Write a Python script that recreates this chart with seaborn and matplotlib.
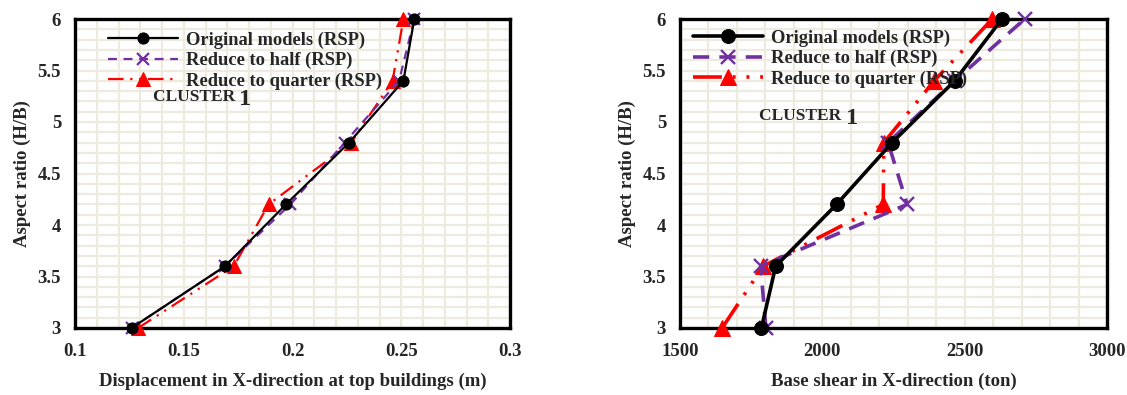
import matplotlib
matplotlib.use("Agg")
import matplotlib.pyplot as plt
import seaborn as sns
import numpy as np
import pandas as pd
from matplotlib.ticker import MultipleLocator

sns.set_theme(style="white")
plt.rcParams['font.family'] = ['Liberation Serif', 'DejaVu Serif']
plt.rcParams['font.weight'] = 'bold'

aspect = [3.0, 3.6, 4.2, 4.8, 5.4, 6.0]
series_names = ["Original models (RSP)", "Reduce to half (RSP)", "Reduce to quarter (RSP)"]

# Left: displacement (m)
disp_orig = [0.126, 0.169, 0.197, 0.226, 0.251, 0.256]
disp_half = [0.126, 0.169, 0.199, 0.224, 0.249, 0.256]
disp_quarter = [0.129, 0.173, 0.189, 0.227, 0.246, 0.251]

# Right: base shear (ton)
shear_orig = [1786, 1836, 2050, 2245, 2465, 2631]
shear_half = [1802, 1783, 2298, 2231, 2465, 2711]
shear_quarter = [1648, 1792, 2214, 2216, 2393, 2597]

FS = 13.5
fig = plt.figure(figsize=(11.27, 3.95), dpi=100)
axL = fig.add_axes([75/1127, 1-328/395, (510-75)/1127, (328-19)/395])
axR = fig.add_axes([680/1127, 1-328/395, (1107-680)/1127, (328-19)/395])

grid_c = '#EDEADF'

def style_axes(ax, xlim, xmajor, xminor):
    ax.set_xlim(*xlim)
    ax.set_ylim(3, 6)
    ax.xaxis.set_major_locator(MultipleLocator(xmajor))
    ax.xaxis.set_minor_locator(MultipleLocator(xminor))
    ax.yaxis.set_major_locator(MultipleLocator(0.5))
    ax.yaxis.set_minor_locator(MultipleLocator(0.1))
    ax.grid(True, which='both', color=grid_c, linewidth=1.6, zorder=0)
    ax.set_axisbelow(True)
    for s in ax.spines.values():
        s.set_color('black')
        s.set_linewidth(2.4)
        s.set_visible(True)
    ax.tick_params(which='both', direction='in', length=3.5, width=2.2, color='black',
                   labelsize=FS, pad=10)
    ax.tick_params(axis='x', pad=11)
    fmt = plt.FuncFormatter(lambda v, p: f"{v:g}")
    ax.xaxis.set_major_formatter(fmt)
    ax.yaxis.set_major_formatter(fmt)
    for lab in ax.get_xticklabels() + ax.get_yticklabels():
        lab.set_fontweight('bold')
    ax.set_ylabel("Aspect ratio (H/B)", fontsize=FS, fontweight='bold', labelpad=5)
    ax.set_facecolor('white')

def add_cluster(ax, x, y):
    t = ax.text(x, y, "CLUSTER ", transform=ax.transAxes, fontsize=12.5, fontweight='bold',
                va='baseline')
    ax.annotate("1", xy=(1, 0), xycoords=t, xytext=(0, 0), textcoords='offset points',
                fontsize=17.5, fontweight='bold', va='baseline', ha='left')

def draw(ax, xs, lw, ms, styles, xmew):
    cols = ['black', '#7030A0', 'red']
    marks = ['o', 'x', '^']
    for i, (xv, name) in enumerate(zip(xs, series_names)):
        kw = dict(linewidth=lw, marker=marks[i], markersize=ms[i], markeredgecolor=cols[i],
                  clip_on=False, zorder=3 + (2 - i))
        if styles[i] is not None:
            kw['linestyle'] = styles[i]
        if marks[i] == 'x':
            kw['markeredgewidth'] = xmew
        sns.lineplot(x=xv, y=aspect, sort=False, estimator=None, ax=ax, color=cols[i],
                     label=name, **kw)

# Left plot
draw(axL, [disp_orig, disp_half, disp_quarter], 1.6, [8, 8, 9.5],
     [None, (0, (4, 3)), (0, (7, 3, 1, 3, 1, 3))], 1.6)
style_axes(axL, (0.1, 0.3), 0.05, 0.01)
axL.set_xlabel("Displacement in X-direction at top buildings (m)", fontsize=FS,
               fontweight='bold', labelpad=9)
axL.legend(loc='upper left', bbox_to_anchor=(0.046, 1.002), frameon=False,
           handlelength=3.8, handletextpad=0.43, labelspacing=0.17, borderaxespad=0.3,
           prop={'weight': 'bold', 'size': 13.3})
add_cluster(axL, 0.179, 0.735)

# Right plot
draw(axR, [shear_orig, shear_half, shear_quarter], 2.6, [10, 10, 12],
     [None, (0, (4.5, 2.8)), (0, (8, 3, 0.8, 3, 0.8, 3))], 1.7)
style_axes(axR, (1500, 3000), 500, 100)
axR.set_xlabel("Base shear in X-direction (ton)", fontsize=FS, fontweight='bold', labelpad=9)
axR.legend(loc='upper left', bbox_to_anchor=(0.0, 1.008), frameon=False,
           handlelength=3.8, handletextpad=0.43, labelspacing=0.17, borderaxespad=0.3,
           prop={'weight': 'bold', 'size': 13.3})
add_cluster(axR, 0.185, 0.673)

fig.savefig("out.png", dpi=100)
